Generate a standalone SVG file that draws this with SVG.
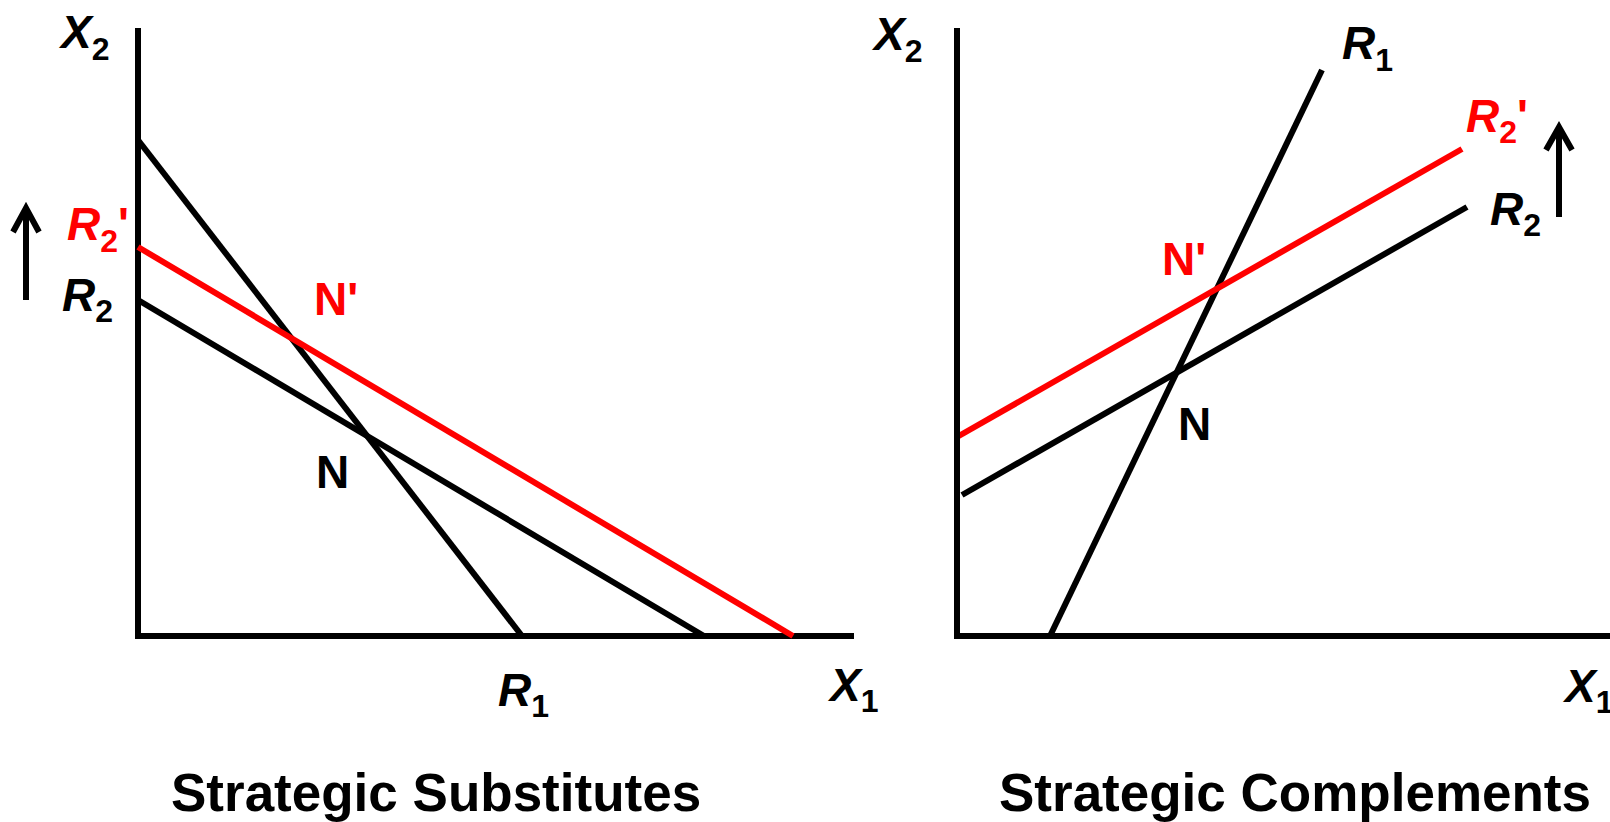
<svg xmlns="http://www.w3.org/2000/svg" width="1610" height="822" viewBox="0 0 1610 822">
<style>
.ln{stroke:#000;stroke-width:6;fill:none}
.rd{stroke:#FF0000;stroke-width:6;fill:none}
.lab{font-family:"Liberation Sans",Arial,sans-serif;font-weight:bold;font-size:46px;fill:#000}
.it{font-style:italic}
.red{fill:#FF0000}
.sub{font-size:32px;font-style:normal}
.ap{font-style:normal}
.title{font-family:"Liberation Sans",Arial,sans-serif;font-weight:bold;font-size:53px;fill:#000}
</style>
<rect width="1610" height="822" fill="#fff"/>
<g id="left-axes">
<line class="ln" x1="138" y1="28" x2="138" y2="639"/>
<line class="ln" x1="135" y1="636" x2="854" y2="636"/>
<text class="lab it" x="61" y="48">X<tspan class="sub" dy="12">2</tspan></text>
<text class="lab it" x="830" y="701">X<tspan class="sub" dy="11">1</tspan></text>
</g>
<g id="connectors">
<line class="ln" x1="138" y1="140" x2="522" y2="636"/>
<line class="ln" x1="138" y1="300" x2="704" y2="636"/>
<line class="rd" x1="138" y1="247" x2="793" y2="636"/>
<line class="ln" x1="1050" y1="636" x2="1322" y2="70"/>
<line class="ln" x1="962" y1="495" x2="1467" y2="207"/>
<line class="rd" x1="957" y1="437" x2="1462" y2="149"/>
<line class="ln" x1="26" y1="300" x2="26" y2="210"/>
<polyline class="ln" points="13,232 26,208 39,232"/>
<line class="ln" x1="1559" y1="217" x2="1559" y2="129"/>
<polyline class="ln" points="1546,150 1559,127 1572,150"/>
</g>
<g id="left-labels">
<text class="lab it red" x="67" y="240">R<tspan class="sub" dy="12">2</tspan><tspan class="ap" dy="-12">'</tspan></text>
<text class="lab it" x="62" y="311">R<tspan class="sub" dy="11">2</tspan></text>
<text class="lab red" x="314" y="315">N'</text>
<text class="lab" x="316" y="488">N</text>
<text class="lab it" x="498" y="706">R<tspan class="sub" dy="11">1</tspan></text>
<text class="title" x="171" y="811">Strategic Substitutes</text>
</g>
<g id="right-axes">
<line class="ln" x1="957" y1="28" x2="957" y2="639"/>
<line class="ln" x1="957" y1="636" x2="1610" y2="636"/>
<text class="lab it" x="874" y="50">X<tspan class="sub" dy="12">2</tspan></text>
<text class="lab it" x="1565" y="702">X<tspan class="sub" dy="11">1</tspan></text>
</g>
<g id="right-labels">
<text class="lab it" x="1342" y="59">R<tspan class="sub" dy="12">1</tspan></text>
<text class="lab it red" x="1466" y="132">R<tspan class="sub" dy="11">2</tspan><tspan class="ap" dy="-11">'</tspan></text>
<text class="lab it" x="1490" y="225">R<tspan class="sub" dy="11">2</tspan></text>
<text class="lab red" x="1162" y="275">N'</text>
<text class="lab" x="1178" y="440">N</text>
<text class="title" x="999" y="811">Strategic Complements</text>
</g>
</svg>
